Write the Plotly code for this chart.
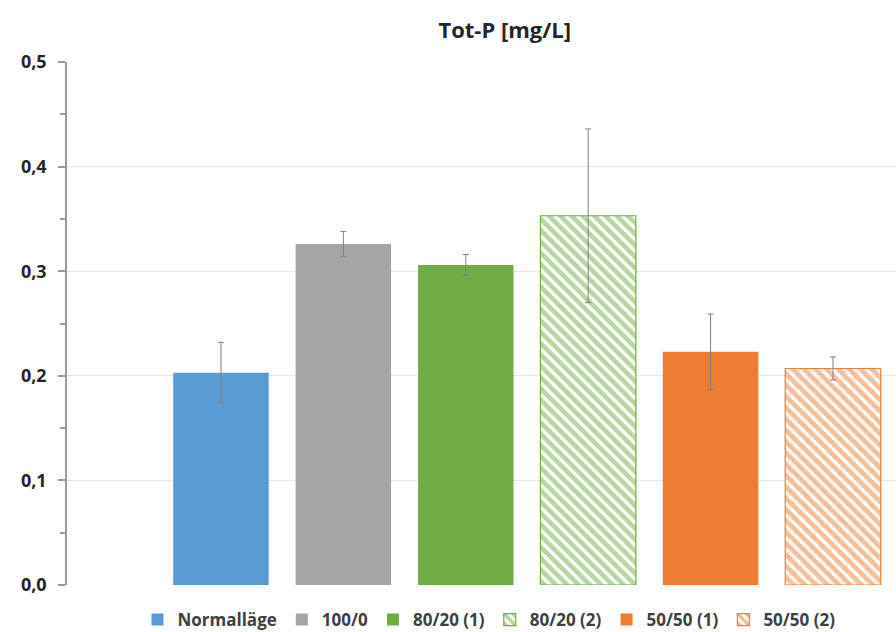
import plotly.graph_objects as go

categories = ["Normalläge", "100/0", "80/20 (1)", "80/20 (2)", "50/50 (1)", "50/50 (2)"]
values = [0.203, 0.326, 0.306, 0.353, 0.223, 0.207]
errors = [0.029, 0.012, 0.010, 0.083, 0.036, 0.011]
colors = ["#5b9bd5", "#a5a5a5", "#70ad47", "#70ad47", "#ed7d31", "#ed7d31"]
hatched = [False, False, False, True, False, True]
y_ticks = [0.0, 0.1, 0.2, 0.3, 0.4, 0.5]
y_tick_labels = ["0,0", "0,1", "0,2", "0,3", "0,4", "0,5"]

fig = go.Figure()
for cat, v, e, c, h in zip(categories, values, errors, colors, hatched):
    marker = dict(color=c, line=dict(width=0))
    if h:
        marker = dict(color="white", line=dict(color=c, width=1.2),
                      pattern=dict(shape="\\", fgcolor=c, bgcolor="white", size=8, solidity=0.6))
    fig.add_trace(go.Bar(
        x=[cat], y=[v], name="<b>%s</b>" % cat, width=0.78, marker=marker,
        error_y=dict(type="data", array=[e], color="#808080", thickness=1, width=3),
    ))

fig.update_layout(
    width=896, height=632,
    margin=dict(l=67, r=0, t=62, b=47, autoexpand=False),
    paper_bgcolor="white", plot_bgcolor="white",
    barmode="overlay",
    font=dict(family="Open Sans", color="#404040"),
    title=dict(text="<b>Tot-P [mg/L]</b>", x=0.528, xanchor="center", xref="paper",
               y=1 - 30 / 632, yref="container", yanchor="middle",
               font=dict(size=22, color="#262626")),
    showlegend=True,
    legend=dict(orientation="h", x=0.085, xanchor="left", y=12 / 632, yref="container", yanchor="middle",
                font=dict(size=17, color="#404040"), itemwidth=30, traceorder="normal",
                tracegroupgap=0),
)
fig.update_xaxes(type="category", categoryorder="array", categoryarray=[c for c in categories],
                 range=[-1.258, 5.515], showticklabels=False, showline=False, showgrid=False, ticks="")
fig.update_yaxes(range=[0, 0.5], tickvals=y_ticks, ticktext=["<b>%s</b>" % t for t in y_tick_labels],
                 showgrid=True, gridcolor="#e6e6e6", gridwidth=1, automargin=False,
                 showline=True, linecolor="#9a9a9a", linewidth=1.5,
                 ticks="outside", ticklen=7, tickcolor="#9a9a9a", tickwidth=1.5,
                 ticklabelstandoff=8,
                 minor=dict(dtick=0.05, ticks="outside", ticklen=5, tickcolor="#9a9a9a", showgrid=False),
                 tickfont=dict(size=18, color="#262626"), zeroline=False)

fig.write_html("out.html", post_script="document.body.style.margin='0';",
               config={"displayModeBar": False})
